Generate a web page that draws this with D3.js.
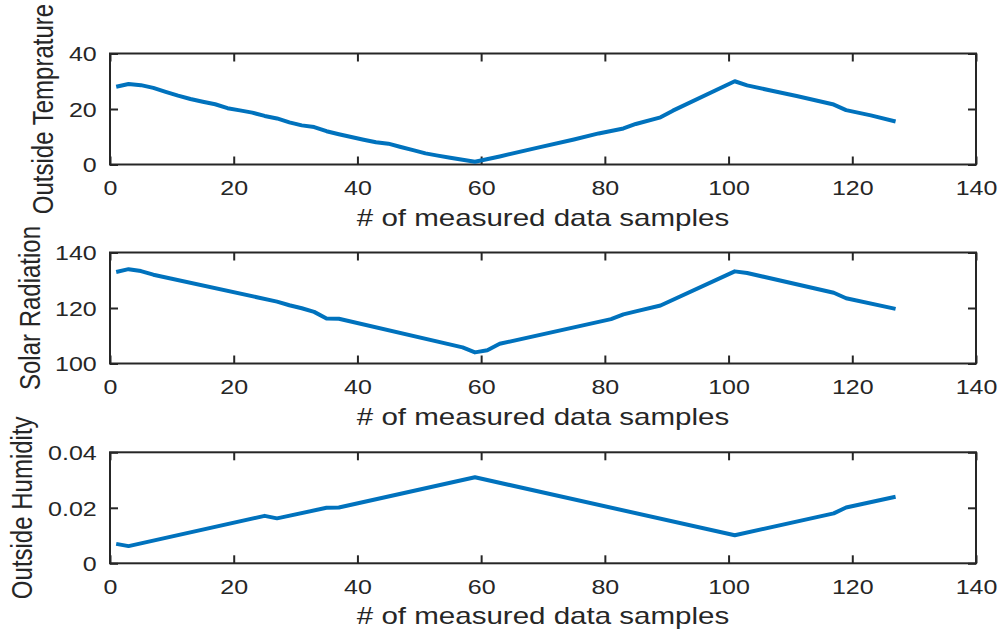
<!DOCTYPE html>
<html>
<head>
<meta charset="utf-8">
<script src="https://cdn.jsdelivr.net/npm/d3@7"></script>
<style>
  html, body { margin: 0; padding: 0; background: #fff; }
  svg { display: block; }
  text { font-family: "Liberation Sans", Arial, Helvetica, sans-serif; fill: #262626; }
</style>
</head>
<body>
<svg id="chart" width="1001" height="634"></svg>
<script>
// ---- Data ----
const xTicks = [0, 20, 40, 60, 80, 100, 120, 140];
const xLabel = "# of measured data samples";

const tempX = [1, 3, 5, 7, 9, 11, 13, 15, 17, 19, 21, 23, 25, 27, 29, 31, 33, 35, 37, 39, 41, 43, 45, 47, 49, 51, 53, 55, 57, 59, 63, 69, 75, 79, 83, 85, 89, 91, 101, 103, 107, 111, 117, 119, 123, 127];
const tempY = [28.0, 29.0, 28.6, 27.6, 26.2, 24.8, 23.6, 22.6, 21.7, 20.3, 19.5, 18.7, 17.5, 16.6, 15.2, 14.1, 13.5, 12.0, 10.9, 9.9, 8.9, 8.0, 7.5, 6.3, 5.2, 4.0, 3.2, 2.4, 1.7, 1.0, 2.9, 6.0, 9.0, 11.2, 13.0, 14.6, 17.0, 19.4, 30.0, 28.5, 26.6, 24.7, 21.6, 19.6, 17.7, 15.5];
const tempTicks = [0, 20, 40];

const solarX = [1, 3, 5, 7, 27, 29, 31, 33, 35, 37, 57, 59, 61, 63, 81, 83, 85, 89, 101, 103, 117, 119, 127];
const solarY = [133.0, 134.0, 133.3, 132.0, 122.3, 121.0, 119.9, 118.6, 116.2, 116.1, 105.8, 104.0, 104.8, 107.1, 116.0, 117.7, 118.8, 120.9, 133.2, 132.6, 125.5, 123.5, 119.7];
const solarTicks = [100, 120, 140];

const humX = [1, 3, 25, 27, 35, 37, 59, 101, 117, 119, 127];
const humY = [0.0070, 0.0062, 0.0171, 0.0162, 0.0200, 0.0201, 0.0310, 0.0101, 0.0180, 0.0201, 0.0240];
const humTicks = [0, 0.02, 0.04];

const panelLabels = ["Outside Temprature", "Solar Radiation", "Outside Humidity"];

// ---- Layout ----
const W = 1001, H = 634;
const left = 110, right = 976, ph = 111;
const tops = [53.5, 252.5, 452.3];
const yLabelX = [53, 39.5, 31.5];
const TICK_FS = 20, TICK_SX = 1.25;
const LABEL_FS = 24, LABEL_SX = 1.23;
const INK = "#262626", LINE = "#0072BD";

const svg = d3.select("#chart");
svg.append("rect").attr("width", W).attr("height", H).attr("fill", "#fff");

const x = d3.scaleLinear().domain([0, 140]).range([left, right]);

const panels = [
  { xs: tempX, ys: tempY, domain: [0, 40], ticks: tempTicks, fmt: d => String(d) },
  { xs: solarX, ys: solarY, domain: [100, 140], ticks: solarTicks, fmt: d => String(d) },
  { xs: humX, ys: humY, domain: [0, 0.04], ticks: humTicks, fmt: d => d === 0 ? "0" : d.toFixed(2) }
];

panels.forEach((p, i) => {
  const top = tops[i], bottom = top + ph;
  const y = d3.scaleLinear().domain(p.domain).range([bottom, top]);
  const g = svg.append("g");

  // axes with inward ticks
  const axB = g.append("g").attr("transform", `translate(0,${bottom})`)
    .call(d3.axisBottom(x).tickValues(xTicks).tickSizeInner(-8).tickSizeOuter(0).tickFormat(d => d));
  const axT = g.append("g").attr("transform", `translate(0,${top})`)
    .call(d3.axisTop(x).tickValues(xTicks).tickSizeInner(-8).tickSizeOuter(0).tickFormat(""));
  const axL = g.append("g").attr("transform", `translate(${left},0)`)
    .call(d3.axisLeft(y).tickValues(p.ticks).tickSizeInner(-8).tickSizeOuter(0).tickFormat(p.fmt));
  const axR = g.append("g").attr("transform", `translate(${right},0)`)
    .call(d3.axisRight(y).tickValues(p.ticks).tickSizeInner(-8).tickSizeOuter(0).tickFormat(""));

  [axB, axT, axL, axR].forEach(a => {
    a.select(".domain").remove();
    a.selectAll(".tick line").attr("stroke", INK).attr("stroke-width", 2);
  });

  axB.selectAll(".tick text")
    .attr("y", 30.5).attr("dy", 0)
    .attr("font-size", TICK_FS)
    .attr("fill", INK)
    .attr("transform", `scale(${TICK_SX},1)`);
  axL.selectAll(".tick text")
    .attr("x", -13.3 / TICK_SX).attr("dy", "0.36em")
    .attr("font-size", TICK_FS)
    .attr("fill", INK)
    .attr("text-anchor", "end")
    .attr("transform", `scale(${TICK_SX},1)`);
  [axB, axL].forEach(a => a.attr("font-family", null).attr("font-size", null));

  // box
  g.append("rect")
    .attr("x", left).attr("y", top)
    .attr("width", right - left).attr("height", ph)
    .attr("fill", "none").attr("stroke", INK).attr("stroke-width", 2);

  // data line
  const pts = p.xs.map((d, k) => [d, p.ys[k]]);
  g.append("path")
    .datum(pts)
    .attr("fill", "none")
    .attr("stroke", LINE)
    .attr("stroke-width", 4)
    .attr("stroke-linejoin", "round")
    .attr("d", d3.line().x(d => x(d[0])).y(d => y(d[1])));

  // x label
  g.append("text")
    .attr("transform", `translate(${(left + right) / 2},${bottom + 61}) scale(${LABEL_SX},1)`)
    .attr("text-anchor", "middle")
    .attr("font-size", LABEL_FS)
    .text(xLabel);

  // y label
  g.append("text")
    .attr("transform", `translate(${yLabelX[i]},${(top + bottom) / 2}) scale(1.2,1) rotate(-90)`)
    .attr("text-anchor", "middle")
    .attr("font-size", LABEL_FS)
    .text(panelLabels[i]);
});
</script>
</body>
</html>
